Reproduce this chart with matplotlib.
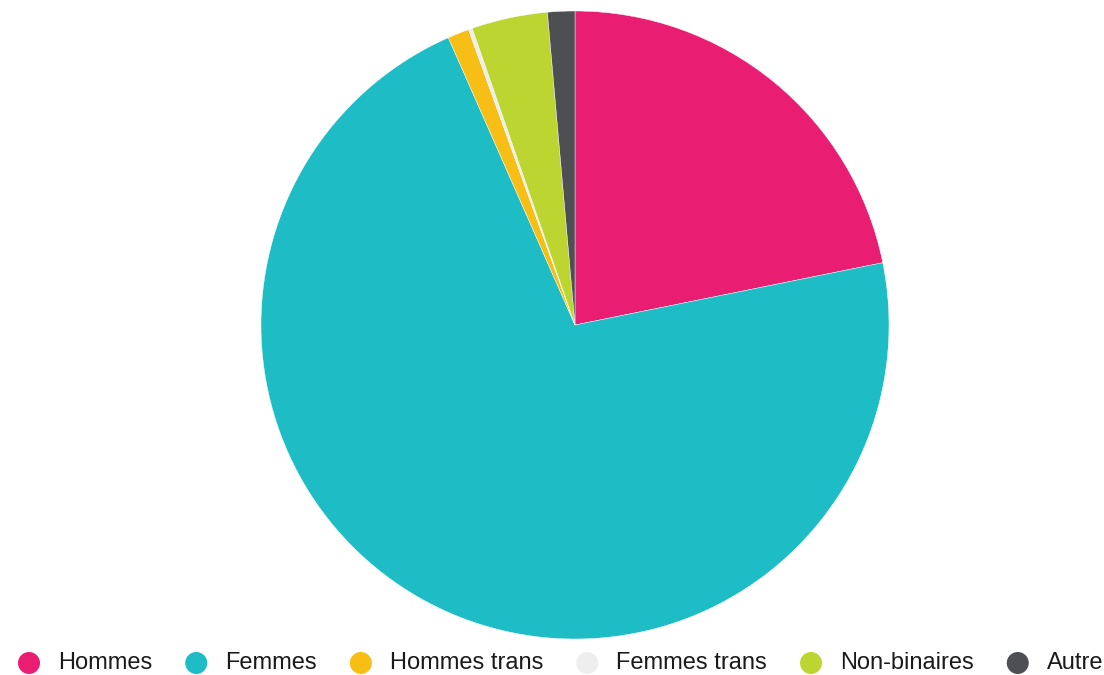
import matplotlib
matplotlib.use("Agg")
import matplotlib.pyplot as plt
from matplotlib.patches import Ellipse

labels = ["Hommes", "Femmes", "Hommes trans", "Femmes trans", "Non-binaires", "Autre"]
shares = [21.8, 71.5, 1.1, 0.2, 3.9, 1.4]
colors = ["#E91E73", "#1EBCC5", "#F7BE16", "#EEEEEE", "#BCD531", "#4D4F53"]

plt.rcParams["font.family"] = ["Liberation Sans", "DejaVu Sans"]

W, H = 1104, 675
fig = plt.figure(figsize=(W / 100, H / 100), dpi=100)

# pie: centre (575, 325), radius 314 px
cx, cy, r = 575, 325, 314
ax = fig.add_axes([(cx - r) / W, (H - cy - r) / H, 2 * r / W, 2 * r / H])
ax.pie(shares, colors=colors, startangle=90, counterclock=False,
       wedgeprops=dict(edgecolor="white", linewidth=0.3))
ax.set_xlim(-1, 1)
ax.set_ylim(-1, 1)
ax.set_aspect("equal")
ax.axis("off")

# legend row along the bottom
fig.canvas.draw()
renderer = fig.canvas.get_renderer()
x = 29
y = H - 663
for lab, col in zip(labels, colors):
    fig.add_artist(Ellipse((x / W, y / H), 22 / W, 22 / H,
                           transform=fig.transFigure,
                           facecolor=col, edgecolor="none"))
    t = fig.text((x + 29) / W, y / H, lab, fontsize=17, color="#1a1a1a",
                 va="center", ha="left")
    bb = t.get_window_extent(renderer=renderer)
    x = bb.x1 + 44

fig.savefig("out.png", dpi=100)
